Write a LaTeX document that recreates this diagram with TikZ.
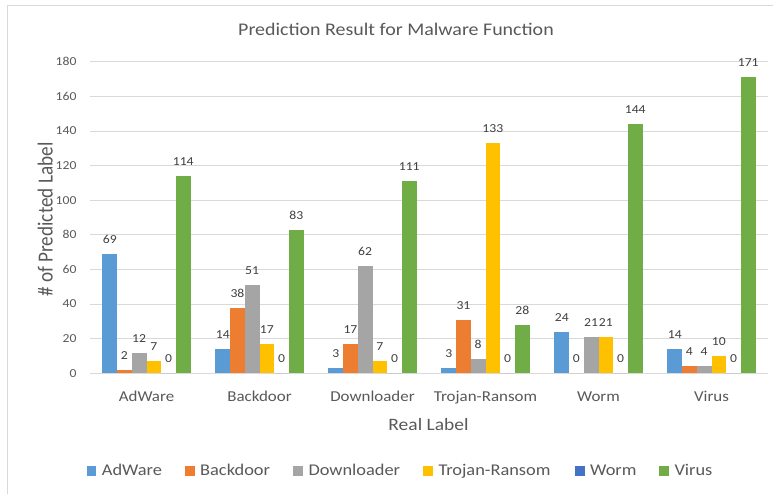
\documentclass[tikz,border=0pt]{standalone}
\usepackage{fontspec}
\setmainfont{Carlito}[FakeStretch=1.12]
\newfontfamily\ylabfont{Carlito}
\usepackage{graphicx}

% series colours
\definecolor{ser0}{HTML}{5B9BD5}
\definecolor{ser1}{HTML}{ED7D31}
\definecolor{ser2}{HTML}{A5A5A5}
\definecolor{ser3}{HTML}{FFC000}
\definecolor{ser4}{HTML}{4472C4}
\definecolor{ser5}{HTML}{70AD47}
\definecolor{txtgray}{HTML}{595959}
\definecolor{lbldark}{HTML}{404040}
\definecolor{linegray}{HTML}{D9D9D9}

\begin{document}
\begin{tikzpicture}[x=1pt,y=-1pt,
  gridline/.style={draw=linegray, line width=0.9pt},
  ticklab/.style={font=\fontsize{12.2}{14}\selectfont, text=txtgray, anchor=base east, inner sep=0pt},
  datalab/.style={font=\fontsize{12.2}{14}\selectfont, text=lbldark, anchor=base, inner sep=0pt},
  catlab/.style={font=\fontsize{15.1}{17}\selectfont, text=txtgray, anchor=base, inner sep=0pt},
  legtext/.style={font=\fontsize{16.4}{18}\selectfont, text=txtgray, anchor=base west, inner sep=0pt},
  axtitle/.style={font=\fontsize{17.4}{20}\selectfont, text=txtgray, anchor=base, inner sep=0pt},
  charttitle/.style={font=\fontsize{17.8}{20}\selectfont, text=txtgray, anchor=base, inner sep=0pt}]

\useasboundingbox (0,0) rectangle (773,493);
\fill[white] (0,0) rectangle (773,493);

% chart frame (top and left edges)
\draw[linegray, line width=1.3pt] (774,5.3) -- (7.3,5.3) -- (7.3,494);

% title
\node[charttitle] (title) at (396,35.7) {Prediction Result for Malware Function};

% value gridlines and tick labels
\foreach \v in {0,20,...,180} {
  \pgfmathsetmacro\gy{373.3-\v*1.731}
  \draw[gridline] (90,\gy) -- (768,\gy);
  \node[ticklab] (tick\v) at (76.7,\gy+3.9) {\v};
}

% bars, value labels and category labels
\foreach \name/\vals [count=\i from 0] in {
    AdWare/{69,2,12,7,0,114},
    Backdoor/{14,38,51,17,0,83},
    Downloader/{3,17,62,7,0,111},
    Trojan-Ransom/{3,31,8,133,0,28},
    Worm/{24,0,21,21,0,144},
    Virus/{14,4,4,10,0,171}} {
  \pgfmathsetmacro\cx{90+113*(\i+0.5)}
  \node[catlab] (cat\i) at (\cx,401.3) {\name};
  \foreach \v [count=\j from 0] in \vals {
    \pgfmathsetmacro\xl{\cx-3*14.7+\j*14.7}
    \pgfmathsetmacro\yt{373.3-\v*1.731}
    \fill[ser\j] (\xl,373.3) rectangle (\xl+14.7,\yt);
    \node[datalab] (val\i-\j) at (\xl+7.35,\yt-10.5) {\v};
  }
}

% axis titles
\node[axtitle] (xtitle) at (428.5,430) {Real Label};
\node[rotate=90, anchor=base, inner sep=0pt, text=txtgray] (ytitle) at (52.7,219.5)
  {\scalebox{1}[1.12]{\ylabfont\fontsize{19.2}{22}\selectfont \# of Predicted Label}};

% legend
\foreach \sx/\lab [count=\k from 0] in {86.7/AdWare, 185/Backdoor, 293.3/Downloader,
    423.3/Trojan-Ransom, 575/Worm, 659.3/Virus} {
  \fill[ser\k] (\sx,466) rectangle (\sx+9.6,475.7);
  \node[legtext] (leg\k) at (\sx+15,475.7) {\lab};
}
\end{tikzpicture}
\end{document}
